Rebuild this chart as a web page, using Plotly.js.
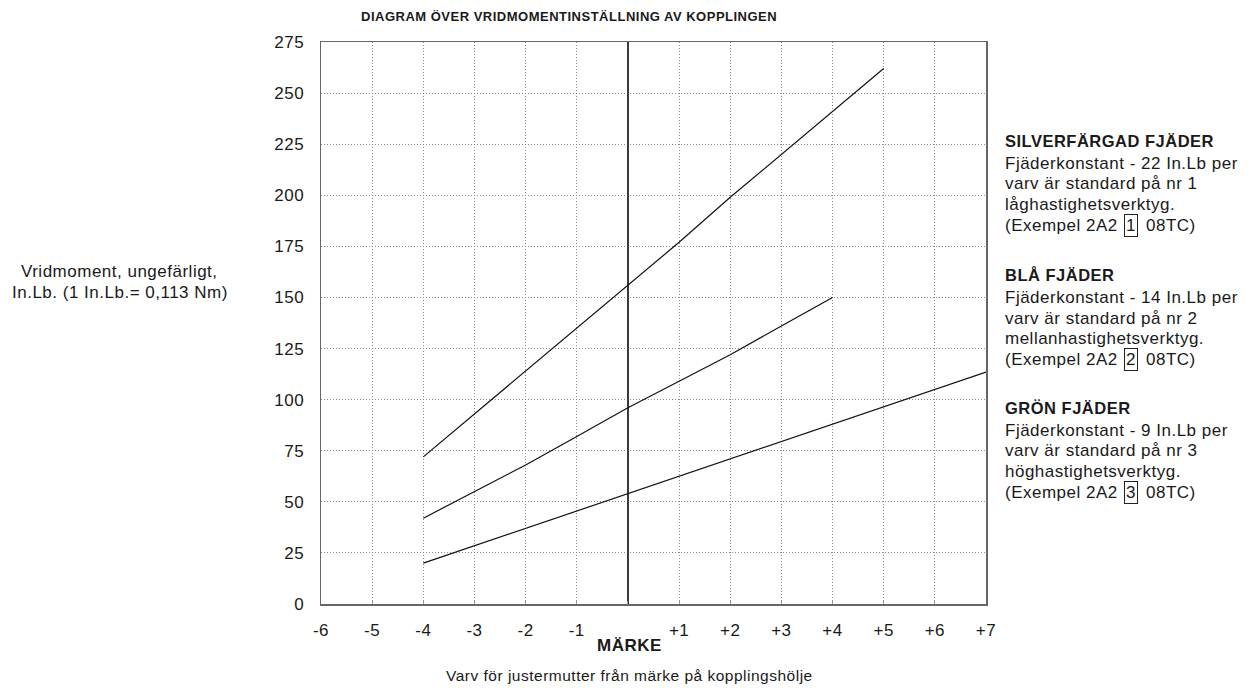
<!DOCTYPE html>
<html>
<head>
<meta charset="utf-8">
<script src="https://cdn.plot.ly/plotly-3.0.1.min.js"></script>
<style>
html,body{margin:0;padding:0;background:#fff;}
#chart{width:1253px;height:688px;}
svg text{letter-spacing:0.5px;}
</style>
</head>
<body>
<div id="chart"></div>
<script>
// ---- data ----
const silverTurns = [-4, -3, -2, -1, 0, 1, 2, 3, 4, 5];
const silverTorque = [72, 93, 114, 135, 156, 177, 199, 220, 241, 262];
const blueTurns = [-4, -3, -2, -1, 0, 1, 2, 3, 4];
const blueTorque = [42, 55, 68, 82, 96, 109, 122, 136, 150];
const greenTurns = [-4, -3, -2, -1, 0, 1, 2, 3, 4, 5, 6, 7];
const greenTorque = [20, 28.5, 37, 45.5, 54, 62.5, 71, 79.5, 88, 96.5, 105, 113.5];

const xTickVals = [-6, -5, -4, -3, -2, -1, 0, 1, 2, 3, 4, 5, 6, 7];
const xTickText = ['-6', '-5', '-4', '-3', '-2', '-1', '', '+1', '+2', '+3', '+4', '+5', '+6', '+7'];
const yTickVals = [0, 25, 50, 75, 100, 125, 150, 175, 200, 225, 250, 275];

const titleText = 'DIAGRAM ÖVER VRIDMOMENTINSTÄLLNING AV KOPPLINGEN';
const yTitleLines = ['Vridmoment, ungefärligt,', 'In.Lb. (1 In.Lb.= 0,113 Nm)'];
const xTitleText = 'Varv för justermutter från märke på kopplingshölje';
const zeroLabel = 'MÄRKE';

const springNames = ['SILVERFÄRGAD FJÄDER', 'BLÅ FJÄDER', 'GRÖN FJÄDER'];
const springLines = [
  ['Fjäderkonstant - 22 In.Lb per', 'varv är standard på nr 1', 'låghastighetsverktyg.'],
  ['Fjäderkonstant - 14 In.Lb per', 'varv är standard på nr 2', 'mellanhastighetsverktyg.'],
  ['Fjäderkonstant - 9 In.Lb per', 'varv är standard på nr 3', 'höghastighetsverktyg.']
];
const exampleLeft = '(Exempel 2A2';
const springCodes = ['1', '2', '3'];
const exampleRight = '08TC)';

// ---- layout geometry ----
const W = 1253, H = 688;
const L = 321, T = 42, R = 986, B = 604;
const pw = R - L, ph = B - T;
const px = x => (x - L) / pw;
const py = y => (B - y) / ph;

const FONTNAME = 'Liberation Sans';
const FONT = FONTNAME + ', Arial, sans-serif';
const INK = '#1a1a1a';
const SPACING = 0.5;
const BODY = 17;
const lineStyle = {color: '#111', width: 1.2};

// text width helper (for chaining the boxed digit)
const cv = document.createElement('canvas').getContext('2d');
function textW(s, size) {
  cv.font = size + 'px "' + FONTNAME + '"';
  return cv.measureText(s).width + SPACING * s.length;
}

const traces = [
  {x: silverTurns, y: silverTorque, mode: 'lines', line: lineStyle, name: springNames[0]},
  {x: blueTurns, y: blueTorque, mode: 'lines', line: lineStyle, name: springNames[1]},
  {x: greenTurns, y: greenTorque, mode: 'lines', line: lineStyle, name: springNames[2]}
];

const annotations = [];
const txt = (text, x, y, opts) => Object.assign({
  text: text, xref: 'paper', yref: 'paper', x: px(x), y: py(y),
  xanchor: 'left', yanchor: 'middle', showarrow: false,
  font: {family: FONT, size: BODY, color: INK}
}, opts || {});

// title
annotations.push(txt('<b>' + titleText + '</b>', 569, 16, {xanchor: 'center', font: {family: FONT, size: 13, color: INK}}));
// y title
annotations.push(txt(yTitleLines[0], 120, 271, {xanchor: 'center'}));
annotations.push(txt(yTitleLines[1], 120, 292, {xanchor: 'center'}));
// x title
annotations.push(txt(xTitleText, 629, 675, {xanchor: 'center', font: {family: FONT, size: 15.5, color: INK}}));
// zero mark label
annotations.push(txt('<b>' + zeroLabel + '</b>', 629, 645, {xanchor: 'center', font: {family: FONT, size: 17, color: INK}}));

// right side spring descriptions
const headerY = [141, 275, 408];
const firstGap = 22.5;
const lh = 20.5;
const textX = 1003;
const PAD = 1;
for (let i = 0; i < 3; i++) {
  const y0 = headerY[i];
  annotations.push(txt('<b>' + springNames[i] + '</b>', textX, y0, {font: {family: FONT, size: 16.5, color: INK}}));
  for (let j = 0; j < 3; j++) {
    annotations.push(txt(springLines[i][j], textX, y0 + firstGap + lh * j));
  }
  const yc = y0 + firstGap + lh * 3;
  annotations.push(txt(exampleLeft, textX, yc));
  const boxX = textX + textW(exampleLeft, BODY) + 8;
  annotations.push(txt(springCodes[i], boxX, yc, {bordercolor: '#222', borderwidth: 1, borderpad: PAD}));
  const rightX = boxX + textW(springCodes[i], BODY) + 2 * PAD + 2 + 6;
  annotations.push(txt(exampleRight, rightX, yc));
}

const layout = {
  width: W, height: H,
  margin: {l: L, r: W - R, t: T, b: H - B},
  paper_bgcolor: '#fff', plot_bgcolor: '#fff',
  showlegend: false,
  font: {family: FONT, size: BODY, color: INK},
  xaxis: {
    range: [-6, 7], tickmode: 'array', tickvals: xTickVals, ticktext: xTickText,
    showgrid: true, gridcolor: '#8c8c8c', griddash: '1px,2px', gridwidth: 1,
    zeroline: true, zerolinecolor: '#3a3a3a', zerolinewidth: 1.4,
    showline: true, linecolor: '#666', linewidth: 1.5, mirror: true,
    ticks: 'inside', ticklen: 3, tickcolor: '#999',
    ticklabelstandoff: 10,
    tickfont: {family: FONT, size: BODY, color: INK},
    fixedrange: true
  },
  yaxis: {
    range: [0, 275], tickmode: 'array', tickvals: yTickVals,
    showgrid: true, gridcolor: '#8c8c8c', griddash: '1px,2px', gridwidth: 1,
    zeroline: false,
    showline: true, linecolor: '#666', linewidth: 1.5, mirror: true,
    ticks: '', ticklabelstandoff: 12,
    tickfont: {family: FONT, size: BODY, color: INK},
    fixedrange: true
  },
  annotations: annotations
};

Plotly.newPlot('chart', traces, layout, {displayModeBar: false, staticPlot: true});
</script>
</body>
</html>
